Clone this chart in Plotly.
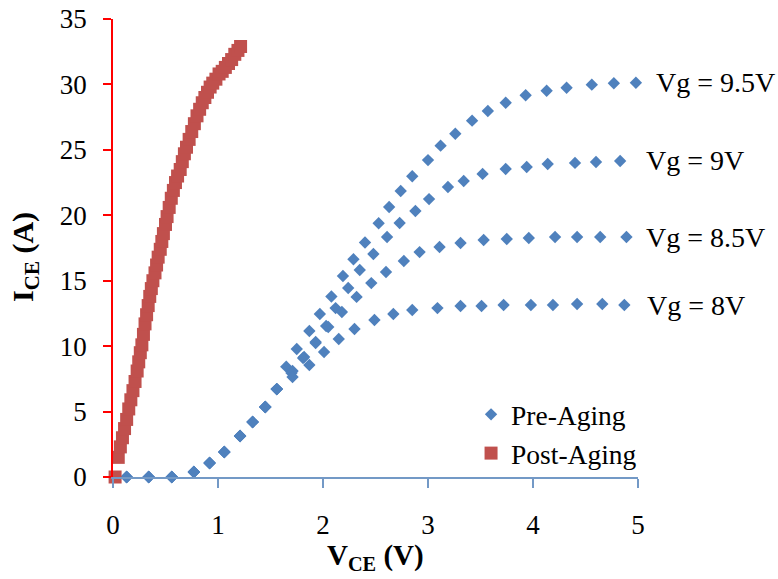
import plotly.graph_objects as go

# ---- Pre-Aging curves (V_CE in V, I_CE in A) ----
vg8_x = [0.13, 0.34, 0.56, 0.77, 0.92, 1.06, 1.21, 1.33, 1.45, 1.56, 1.71, 1.87, 2.01, 2.15, 2.30, 2.49,
         2.67, 2.85, 3.09, 3.31, 3.51, 3.72, 3.98, 4.19, 4.42, 4.66, 4.87]
vg8_y = [0.0, 0.0, 0.0, 0.38, 1.07, 1.91, 3.13, 4.20, 5.35, 6.72, 7.64, 8.56, 9.55, 10.55, 11.31, 12.00,
         12.46, 12.76, 12.91, 13.07, 13.07, 13.14, 13.14, 13.14, 13.22, 13.22, 13.14]

vg85_x = [0.13, 0.34, 0.56, 0.77, 0.92, 1.06, 1.21, 1.33, 1.45, 1.56, 1.70, 1.81, 1.93, 2.05, 2.18, 2.32,
          2.46, 2.60, 2.77, 2.92, 3.11, 3.31, 3.53, 3.75, 3.96, 4.21, 4.42, 4.64, 4.89]
vg85_y = [0.0, 0.0, 0.0, 0.38, 1.07, 1.91, 3.13, 4.20, 5.35, 6.72, 7.95, 9.09, 10.24, 11.46, 12.61, 13.76,
          14.82, 15.67, 16.51, 17.19, 17.58, 17.88, 18.11, 18.19, 18.26, 18.34, 18.34, 18.34, 18.34]

vg9_x = [0.13, 0.34, 0.56, 0.77, 0.92, 1.06, 1.21, 1.33, 1.45, 1.56, 1.71, 1.82, 1.93, 2.03, 2.12, 2.24,
         2.35, 2.48, 2.61, 2.73, 2.88, 3.01, 3.19, 3.34, 3.52, 3.74, 3.94, 4.14, 4.40, 4.60, 4.83]
vg9_y = [0.0, 0.0, 0.0, 0.38, 1.07, 1.91, 3.13, 4.20, 5.35, 6.72, 8.10, 9.17, 10.32, 11.54, 12.91, 14.44,
         15.82, 17.04, 18.34, 19.41, 20.33, 21.24, 22.16, 22.62, 23.16, 23.54, 23.69, 23.92, 24.00, 24.07, 24.15]

vg95_x = [0.13, 0.34, 0.56, 0.77, 0.92, 1.06, 1.21, 1.33, 1.45, 1.56, 1.65, 1.75, 1.87, 1.97, 2.08, 2.19,
          2.29, 2.40, 2.53, 2.63, 2.74, 2.85, 3.00, 3.12, 3.26, 3.42, 3.57, 3.74, 3.93, 4.13, 4.32, 4.56,
          4.77, 4.98]
vg95_y = [0.0, 0.0, 0.0, 0.38, 1.07, 1.91, 3.13, 4.20, 5.35, 6.72, 8.43, 9.78, 11.16, 12.46, 13.79, 15.36,
          16.64, 17.92, 19.39, 20.63, 21.86, 22.98, 24.22, 25.32, 26.23, 27.23, 27.97, 28.60, 29.17, 29.52,
          29.75, 29.98, 30.09, 30.13]

curve_labels = ["Vg = 9.5V", "Vg = 9V", "Vg = 8.5V", "Vg = 8V"]
label_x_paper = [1.03, 1.012, 1.012, 1.014]

# ---- Post-Aging curve ----
post_x = [0.02, 0.05, 0.07, 0.09, 0.11, 0.13, 0.15, 0.17, 0.19, 0.21, 0.23, 0.245, 0.26, 0.275, 0.29,
          0.305, 0.32, 0.335, 0.35, 0.365, 0.38, 0.40, 0.415, 0.43, 0.45, 0.465, 0.48, 0.50, 0.515,
          0.535, 0.555, 0.575, 0.595, 0.615, 0.64, 0.66, 0.68, 0.70, 0.725, 0.75, 0.775, 0.80, 0.825,
          0.85, 0.875, 0.90, 0.925, 0.95, 0.98, 1.01, 1.04, 1.07, 1.10, 1.13, 1.16, 1.19, 1.215]
post_y = [0.0, 1.5, 2.3, 3.0, 3.7, 4.4, 5.2, 5.9, 6.6, 7.3, 8.1, 8.8, 9.5, 10.1, 10.9,
          11.7, 12.4, 13.1, 13.8, 14.4, 15.0, 15.6, 16.2, 16.8, 17.4, 18.0, 18.6, 19.3, 19.9,
          20.6, 21.3, 21.9, 22.5, 23.0, 23.5, 24.1, 24.7, 25.2, 25.8, 26.4, 27.0, 27.6, 28.1,
          28.6, 29.0, 29.4, 29.8, 30.1, 30.4, 30.8, 31.0, 31.3, 31.6, 31.9, 32.3, 32.6, 32.9]

x_ticks = [0, 1, 2, 3, 4, 5]
y_ticks = [0, 5, 10, 15, 20, 25, 30, 35]

FONT = "Liberation Serif"
BLUE = "#4F81BD"
RED = "#C0504D"

pre_curves = [(vg95_x, vg95_y), (vg9_x, vg9_y), (vg85_x, vg85_y), (vg8_x, vg8_y)]
pre_x = [v for cx, cy in pre_curves for v in cx]
pre_y = [v for cx, cy in pre_curves for v in cy]

fig = go.Figure()
fig.add_trace(go.Scatter(
    x=pre_x, y=pre_y, mode="markers", name="Pre-Aging",
    marker=dict(symbol="diamond", size=9.5, color=BLUE),
    cliponaxis=False,
))
fig.add_trace(go.Scatter(
    x=post_x, y=post_y, mode="markers", name="Post-Aging",
    marker=dict(symbol="square", size=13, color=RED),
    cliponaxis=False,
))

for lab, lx, (cx, cy) in zip(curve_labels, label_x_paper, pre_curves):
    fig.add_annotation(x=lx, y=cy[-1], xref="paper", yref="y", text=lab, showarrow=False,
                       xanchor="left", yanchor="middle",
                       font=dict(family=FONT, size=28, color="black"))

fig.add_annotation(x=0.5, y=-0.175, xref="paper", yref="paper",
                   text="<b>V<sub>CE</sub> (V)</b>", showarrow=False,
                   xanchor="center", yanchor="middle",
                   font=dict(family=FONT, size=29, color="black"))
fig.add_annotation(x=-0.168, y=0.48, xref="paper", yref="paper",
                   text="<b>I<sub>CE</sub> (A)</b>", showarrow=False, textangle=-90,
                   xanchor="center", yanchor="middle",
                   font=dict(family=FONT, size=30, color="black"))

fig.update_layout(
    width=778, height=579,
    margin=dict(l=113, r=140, t=19, b=102, autoexpand=False),
    paper_bgcolor="white", plot_bgcolor="white",
    font=dict(family=FONT, size=27, color="black"),
    showlegend=True,
    legend=dict(x=0.682, y=0.19, xanchor="left", yanchor="top",
                bgcolor="rgba(0,0,0,0)", font=dict(family=FONT, size=27.5),
                itemsizing="trace", tracegroupgap=0),
    xaxis=dict(range=[0, 5], tickvals=x_ticks, showgrid=False, zeroline=False,
               showline=True, linecolor="#7399C6", linewidth=1.5, automargin=False,
               ticks="outside", ticklen=9, tickcolor="#7399C6", tickwidth=1.5,
               ticklabelstandoff=14, tickfont=dict(family=FONT, size=27)),
    yaxis=dict(range=[0, 35], tickvals=y_ticks, showgrid=False, zeroline=False,
               showline=True, linecolor="#FF0000", linewidth=1.5, automargin=False,
               ticks="outside", ticklen=8, tickcolor="#FF0000", tickwidth=1.5,
               ticklabelstandoff=11, tickfont=dict(family=FONT, size=27)),
)

fig.write_html("out.html")
